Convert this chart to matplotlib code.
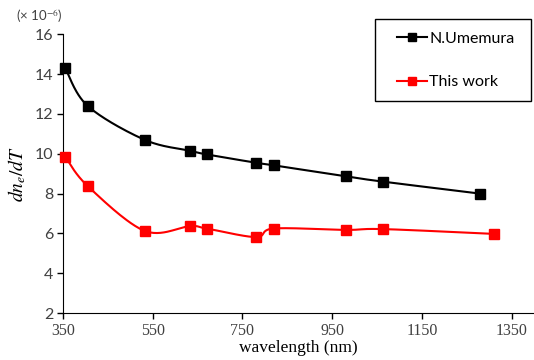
import numpy as np
import matplotlib
matplotlib.use('Agg')
from matplotlib import pyplot as plt
from matplotlib.lines import Line2D
from matplotlib.patches import Rectangle

plt.rcParams['mathtext.fontset'] = 'stix'

# data
wl_umemura = [355, 405, 532, 633, 670, 780, 820, 980, 1064, 1280]
dn_umemura = [14.3, 12.4, 10.7, 10.15, 9.97, 9.55, 9.42, 8.87, 8.6, 8.0]
wl_this = [355, 405, 532, 633, 670, 780, 820, 980, 1064, 1310]
dn_this = [9.85, 8.38, 6.13, 6.37, 6.25, 5.82, 6.25, 6.18, 6.22, 5.98]

x_ticks = [350, 550, 750, 950, 1150, 1350]
y_ticks = [2, 4, 6, 8, 10, 12, 14, 16]
xlim = (350, 1400)
ylim = (2, 16)


def smooth(xs, ys, n=30):
    # excel-like smoothed line (catmull-rom bezier) in normalized axis units
    sx = (xlim[1] - xlim[0]) / 470.0
    sy = (ylim[1] - ylim[0]) / 279.0
    p = np.column_stack([np.asarray(xs, float) / sx, np.asarray(ys, float) / sy])
    out = []
    for i in range(len(p) - 1):
        p0 = p[i - 1] if i > 0 else p[i]
        p3 = p[i + 2] if i + 2 < len(p) else p[i + 1]
        p1, p2 = p[i], p[i + 1]
        c1 = p1 + (p2 - p0) / 6
        c2 = p2 - (p3 - p1) / 6
        t = np.linspace(0, 1, n)[:, None]
        seg = ((1 - t) ** 3) * p1 + 3 * ((1 - t) ** 2) * t * c1 \
            + 3 * (1 - t) * t ** 2 * c2 + t ** 3 * p2
        out.append(seg if i == 0 else seg[1:])
    out = np.vstack(out)
    return out[:, 0] * sx, out[:, 1] * sy


fig = plt.figure(figsize=(5.34, 3.6), dpi=100)
ax = fig.add_axes([0.118, 0.13, 0.882, 0.775])

for xs, ys, c in [(wl_umemura, dn_umemura, 'black'), (wl_this, dn_this, '#ff0000')]:
    sxs, sys_ = smooth(xs, ys)
    ax.plot(sxs, sys_, color=c, lw=1.5, zorder=2, clip_on=False)
    ax.plot(xs, ys, ls='none', marker='s', ms=7, color=c, zorder=3, clip_on=False)

ax.set_xlim(*xlim)
ax.set_ylim(*ylim)
ax.set_xticks(x_ticks)
ax.set_yticks(y_ticks)
ax.spines['top'].set_visible(False)
ax.spines['right'].set_visible(False)
ax.tick_params(direction='out', length=4, width=1, colors='black', pad=3)
for lab in ax.get_xticklabels():
    lab.set_fontfamily('Liberation Serif')
    lab.set_fontsize(11.5)
    lab.set_color('#404040')
for lab in ax.get_yticklabels():
    lab.set_fontfamily('Lato')
    lab.set_fontsize(11.5)
    lab.set_color('#404040')

ax.set_xlabel('wavelength (nm)', fontfamily='Liberation Serif', fontsize=12.5,
              labelpad=1)
ax.set_ylabel(r'$dn_e/dT$', fontsize=14, labelpad=5)
fig.text(0.03, 0.955, r'(× 10$^{-6}$)', fontsize=9.5, color='#404040',
         fontfamily='Lato', va='center')

# legend box (excel style, wide padding)
fig.patches.append(Rectangle((375 / 534, 1 - 101 / 360), 156 / 534, 82 / 360,
                             transform=fig.transFigure, fill=False,
                             edgecolor='black', lw=1.0, zorder=5))
handles = [Line2D([], [], color='black', lw=1.5, marker='s', ms=6),
           Line2D([], [], color='#ff0000', lw=1.5, marker='s', ms=6)]
leg = ax.legend(handles, ['N.Umemura', 'This work'], loc='center left',
                bbox_to_anchor=(397 / 534, 1 - 60.5 / 360),
                bbox_transform=fig.transFigure, frameon=False,
                labelspacing=1.85, handlelength=1.9, handletextpad=0.12,
                borderpad=0, borderaxespad=0,
                prop={'family': 'Lato', 'size': 11.5})
for t in leg.get_texts():
    t.set_color('black')

fig.savefig('out.png', dpi=100)
